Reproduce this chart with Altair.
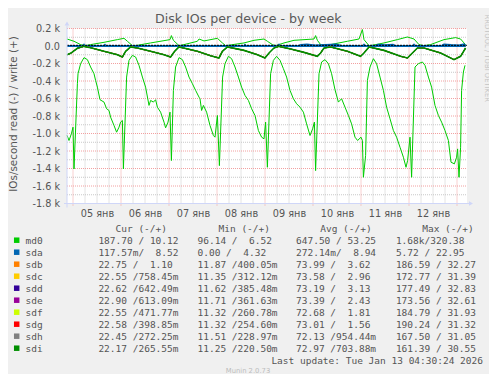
import altair as alt
import pandas as pd

# ---------------- data (hours from 05 Jan 00:00, IO/s) ----------------
BASE = pd.Timestamp("2026-01-05 00:00:00")

devices = ["md0", "sda", "sdb", "sdc", "sdd", "sde", "sdf", "sdg", "sdh", "sdi"]
colors = ["#00CC00", "#0066B3", "#FF8000", "#FFCC00", "#330099",
          "#990099", "#CCFF00", "#FF0000", "#808080", "#008F00"]

md0_read = [
    (-3, 1020), (-2.0, 1080), (-0.8, 1003), (0.0, 928), (0.5, 1405), (2.2, 431), (2.5, 317),
    (3.8, 202), (5.5, 133), (7.2, 156), (8.8, 240), (10.5, 317), (11.3, 393), (12.2, 470),
    (13.5, 614), (15.5, 641), (16.8, 717), (18.0, 737), (18.8, 813), (20.5, 908), (21.8, 985),
    (23.0, 928), (23.8, 870), (24.7, 851), (25.2, 1405), (26.8, 355), (28.0, 164), (29.7, 107),
    (31.3, 126), (33.0, 221), (34.7, 355), (36.3, 470), (38.0, 679), (38.8, 622), (40.2, 641),
    (41.3, 614), (42.2, 699), (43.8, 756), (45.5, 870), (46.3, 935), (47.5, 870), (48.5, 756),
    (49.2, 1309), (50.2, 507), (51.3, 240), (53.0, 133), (54.7, 156), (56.3, 240), (58.0, 355),
    (59.7, 431), (61.3, 507), (63.0, 584), (63.5, 603), (64.3, 737), (65.2, 679), (66.8, 756),
    (68.5, 908), (70.2, 1023), (71.0, 1042), (72.2, 794), (73.2, 1367), (74.8, 355), (76.0, 202),
    (77.7, 118), (79.3, 145), (81.0, 240), (82.7, 355), (84.3, 470), (86.0, 565), (87.7, 622),
    (89.3, 717), (91.0, 794), (92.7, 966), (94.3, 1042), (95.5, 1061), (96.3, 870), (97.2, 1386),
    (98.8, 317), (100.2, 164), (101.8, 118), (103.5, 164), (105.2, 259), (106.8, 355),
    (108.5, 507), (110.2, 603), (111.8, 660), (113.5, 699), (115.2, 756), (116.8, 890),
    (118.5, 1023), (119.8, 947), (120.7, 870), (121.3, 1424), (123.0, 317), (124.3, 183),
    (126.0, 156), (127.7, 202), (129.3, 317), (131.0, 500), (132.7, 641), (134.3, 603),
    (136.0, 699), (137.7, 794), (139.3, 890), (141.0, 1042), (142.3, 1080), (144.0, 1042),
    (144.7, 1080), (145.2, 1500), (146.3, 1252), (147.2, 393), (148.5, 240), (150.2, 145),
    (151.8, 202), (153.5, 355), (155.2, 507), (156.8, 699), (158.5, 832), (160.2, 966),
    (161.8, 1042), (163.5, 1157), (165.2, 1271), (166.5, 1386), (167.3, 1309), (168.5, 1042),
    (169.3, 1500), (171.0, 240), (172.7, 202), (174.7, 183), (176.0, 221), (177.7, 355),
    (179.3, 470), (181.0, 679), (182.7, 794), (184.3, 870), (186.0, 966), (187.7, 1080),
    (189.0, 1328), (190.7, 1347), (191.8, 1271), (192.3, 1176), (193.0, 1500), (193.8, 1157),
    (194.3, 507), (195.2, 297), (196.0, 221),
]

md0_write = [
    (-3, 80), (0.5, 54), (3.8, 16), (5.8, 4), (8.8, 16), (15.5, 42), (22.2, 73), (25.5, 88),
    (27.2, 54), (29.7, 4), (32.2, 8), (38.8, 35), (45.5, 61), (48.5, 73), (49.2, 119), (50.2, 65),
    (53.0, 4), (55.5, 16), (62.2, 54), (63.0, 80), (65.5, 58), (72.2, 88), (74.7, 35), (76.3, 4),
    (78.8, 12), (85.5, 35), (90.5, 65), (95.5, 80), (97.2, 54), (99.7, 16), (101.3, 4),
    (105.5, 35), (110.5, 65), (120.5, 80), (121.3, 119), (122.2, 65), (123.8, 16), (125.5, 4),
    (128.8, 16), (137.2, 54), (143.0, 80), (144.7, 188), (145.5, 73), (148.0, 4), (150.5, 12),
    (155.5, 35), (162.2, 73), (167.2, 103), (170.5, 80), (173.0, 16), (175.5, 4), (178.8, 16),
    (185.5, 73), (191.3, 96), (193.8, 80), (195.5, 35), (196.3, 16),
]

sda_read = [(-3, 0.3), (100, 0.2), (196.3, 0.1)]
sda_write = [
    (-3, 4), (5, 4), (5.5, 18), (6, 4), (15.5, 4), (16, 16), (16.5, 4), (85.5, 4), (86, 16),
    (86.5, 4), (102.5, 4), (103, 18), (103.5, 4), (113, 6), (114, 14), (117, 20), (121, 10),
    (126, 14), (131.5, 20), (134, 6), (145, 4), (145.5, 18), (146, 4), (151.5, 6), (152.5, 16),
    (156, 12), (160, 16), (161, 4), (170, 4), (170.5, 18), (171, 4), (184.5, 6), (185.5, 20),
    (189, 14), (193, 10), (195.5, 22), (196.3, 8),
]

# sdb..sdi draw practically on top of each other
sd_read = [
    (-3, 100), (-1.2, 84), (2.2, 26), (5.5, 4), (8.8, 19), (15.5, 61), (22.2, 99), (24.7, 126),
    (26.3, 61), (28.8, 11), (32.2, 23), (38.8, 61), (45.5, 99), (48.8, 126), (50.8, 61),
    (53.0, 11), (62.2, 61), (68.8, 111), (73.0, 137), (74.7, 61), (77.2, 11), (85.5, 50),
    (92.2, 99), (96.0, 137), (98.0, 80), (100.5, 23), (103.0, 4), (108.8, 34), (115.5, 73),
    (122.2, 118), (123.8, 80), (125.5, 23), (128.8, 11), (137.2, 61), (143.8, 118), (145.5, 80),
    (148.0, 11), (155.5, 50), (163.8, 118), (167.2, 137), (169.7, 80), (172.2, 23), (175.5, 23),
    (183.8, 80), (190.5, 156), (193.8, 118), (196.3, 23),
]
sd_write = [(-3, 2), (24, 3), (48, 2), (72, 3), (96, 2), (120, 3), (144, 2), (168, 3), (196.3, 2)]

# legend table (read / write)
cur_read = [187.70, 0.11757, 22.75, 22.55, 22.62, 22.90, 22.55, 22.58, 22.45, 22.17]
cur_write = [10.12, 8.52, 1.10, 0.75845, 0.64249, 0.61309, 0.47177, 0.39885, 0.27225, 0.26555]
min_read = [96.14, 0.00, 11.87, 11.35, 11.62, 11.71, 11.32, 11.32, 11.51, 11.25]
min_write = [6.52, 4.32, 0.40005, 0.31212, 0.38548, 0.36163, 0.26078, 0.25460, 0.22897, 0.22050]
avg_read = [647.50, 0.27214, 73.99, 73.58, 73.19, 73.39, 72.68, 73.01, 72.13, 72.97]
avg_write = [53.25, 8.94, 3.62, 2.96, 3.13, 2.43, 1.81, 1.56, 0.95444, 0.70388]
max_read = [1680, 5.72, 186.59, 172.77, 177.49, 173.56, 184.79, 190.24, 167.50, 161.39]
max_write = [320.38, 22.95, 32.27, 31.39, 32.83, 32.61, 31.93, 31.32, 31.05, 30.55]

day_labels = list(range(5, 13))
y_ticks = list(range(-1800, 201, 200))

# ---------------- helpers ----------------
NB = "\u00a0"
TXT = "#555555"
MONO = "DejaVu Sans Mono"
SANS = "DejaVu Sans"


def si(v):
    if v >= 1000:
        s = f"{v / 1000:6.2f}k"
    elif 0 < v < 1:
        s = f"{v * 1000:6.2f}m"
    else:
        s = f"{v:6.2f} "
    return s


def cell(r, w):
    return (si(r) + "/" + si(w)).replace(" ", NB)


def to_df(pairs, sign):
    return pd.DataFrame({
        "t": [BASE + pd.Timedelta(hours=h) for h, _ in pairs],
        "v": [sign * v for _, v in pairs],
    })


xs = alt.Scale(domain=[alt.DateTime(year=2026, month=1, date=4, hours=21),
                       alt.DateTime(year=2026, month=1, date=13, hours=5)])
ys = alt.Scale(domain=[-1800, 200], nice=False, zero=False)
one = pd.DataFrame({"a": [0]})


def line(pairs, sign, color, width=1.0):
    return alt.Chart(to_df(pairs, sign)).mark_line(color=color, strokeWidth=width).encode(
        x=alt.X("t:T", scale=xs, axis=None),
        y=alt.Y("v:Q", scale=ys, axis=None),
    )


# ---------------- grid + axes ----------------
minor_h = [h for h in range(6, 197, 6) if h % 24 != 0]
major_h = list(range(0, 193, 24))
vmin = pd.DataFrame({"t": [BASE + pd.Timedelta(hours=h) for h in minor_h]})
vmaj = pd.DataFrame({"t": [BASE + pd.Timedelta(hours=h) for h in major_h]})
hmin = pd.DataFrame({"v": list(range(-1700, 101, 200))})
hmaj = pd.DataFrame({"v": y_ticks})

x_axis = alt.Axis(
    values=[alt.DateTime(year=2026, month=1, date=d, hours=12) for d in day_labels],
    labelExpr="timeFormat(datum.value, '%d') + ' янв'",
    ticks=False, tickSize=0, domain=False, grid=False, title=None, labelAngle=0,
    labelFont=SANS, labelFontSize=9.7, labelColor=TXT, labelPadding=5,
    labelOverlap=False, labelFlush=False,
)
y_axis = alt.Axis(
    values=y_ticks,
    labelExpr="datum.value == 0 ? '0.0" + NB + NB + "' : (datum.value < 0 ? '-' : '') + format(abs(datum.value) / 1000, '.1f') + ' k'",
    ticks=False, tickSize=0, domain=False, grid=False, title=None,
    labelFont=SANS, labelFontSize=9.7, labelColor=TXT, labelPadding=7.5,
    labelOverlap=False, labelFlush=False,
)

GRID = "#C8C8C8"
MGRID = "#F2A0A0"
grid_vmin = alt.Chart(vmin).mark_rule(color=GRID, strokeDash=[1, 1], strokeWidth=1).encode(
    x=alt.X("t:T", scale=xs, axis=x_axis), y=alt.value(0), y2=alt.value(175))
grid_hmin = alt.Chart(hmin).mark_rule(color=GRID, strokeDash=[1, 1], strokeWidth=1).encode(
    y=alt.Y("v:Q", scale=ys, axis=None), x=alt.value(0), x2=alt.value(400))
grid_vmaj = alt.Chart(vmaj).mark_rule(color=MGRID, strokeDash=[1, 1], strokeWidth=1).encode(
    x=alt.X("t:T", scale=xs, axis=None), y=alt.value(0), y2=alt.value(178))
grid_hmaj = alt.Chart(hmaj).mark_rule(color=MGRID, strokeDash=[1, 1], strokeWidth=1).encode(
    y=alt.Y("v:Q", scale=ys, axis=y_axis), x=alt.value(0), x2=alt.value(400))

AX = "#CFD6F8"
axis_left = alt.Chart(one).mark_rule(color=AX, strokeWidth=1).encode(
    x=alt.value(0), y=alt.value(-3), y2=alt.value(179))
axis_bottom = alt.Chart(one).mark_rule(color=AX, strokeWidth=1).encode(
    y=alt.value(175), x=alt.value(-3), x2=alt.value(402))
arrow_up = alt.Chart(one).mark_point(shape="triangle-up", filled=True, size=22, color=AX, opacity=1).encode(
    x=alt.value(0), y=alt.value(-5))
arrow_right = alt.Chart(one).mark_point(shape="triangle-right", filled=True, size=22, color=AX, opacity=1).encode(
    x=alt.value(404), y=alt.value(175))

zero_rule = alt.Chart(pd.DataFrame({"v": [0]})).mark_rule(
    color="#000000", strokeWidth=1, yOffset=-0.7, strokeDash=[2, 1]).encode(
    y=alt.Y("v:Q", scale=ys, axis=None), x=alt.value(0), x2=alt.value(400))

# ---------------- data lines (Munin drawing order) ----------------
lines = [line(md0_read, -1, colors[0]), line(md0_write, 1, colors[0])]
for c in colors[2:]:
    lines.append(line(sd_write, 1, c))
lines += [line(sda_read, -1, colors[1], 2.0), line(sda_write, 1, colors[1], 1.5)]
lines.append(zero_rule)
for c in colors[2:-1]:
    lines.append(line(sd_read, -1, c, 1.0))
lines.append(line(sd_read, -1, colors[-1], 1.6))

# ---------------- texts ----------------
def label(text, x, y, size, color=TXT, font=SANS, align="center", angle=0):
    return alt.Chart(one).mark_text(
        text=text, font=font, fontSize=size, color=color, align=align,
        baseline="alphabetic", angle=angle,
    ).encode(x=alt.value(x), y=alt.value(y))


texts = [
    label("Disk IOs per device - by week", 181.3, -5.5, 12.6, color="#5a5a5a"),
    label("IOs/second read (-) / write (+)", -50.5, 85.5, 10.4, angle=270),
    label("RRDTOOL / TOBI OETIKER", 417.5, 29.8, 6.8, color="#C4C4C4", angle=90),
    label("Last update: Tue Jan 13 04:30:24 2026".replace(" ", NB), 416, 335, 9.5,
          font=MONO, align="right"),
    label("Munin 2.0.73", 181, 344.3, 6.8, color="#BDBDBD"),
]
for name, hx in zip(["Cur (-/+)", "Min (-/+)", "Avg (-/+)", "Max (-/+)"],
                    [48.5, 151.5, 253.2, 355.2]):
    texts.append(label(name.replace(" ", NB), hx, 203, 9.5, font=MONO, align="left"))

legend_df = pd.DataFrame({
    "name": devices,
    "color": colors,
    "idx": list(range(len(devices))),
    "cur": [cell(r, w) for r, w in zip(cur_read, cur_write)],
    "mn": [cell(r, w) for r, w in zip(min_read, min_write)],
    "avg": [cell(r, w) for r, w in zip(avg_read, avg_write)],
    "mx": [cell(r, w) for r, w in zip(max_read, max_write)],
})
leg = alt.Chart(legend_df).transform_calculate(
    py="215 + datum.idx * 12", sy="211.7 + datum.idx * 12")

legend_layers = [
    leg.mark_square(size=30, opacity=1).encode(
        x=alt.value(-50.3), y=alt.Y("sy:Q", scale=None, axis=None),
        color=alt.Color("color:N", scale=None, legend=None)),
    leg.mark_text(align="left", baseline="alphabetic", font=MONO, fontSize=9.5, color=TXT).encode(
        x=alt.value(-41.5), y=alt.Y("py:Q", scale=None, axis=None), text="name:N"),
]
for field, cx in zip(["cur", "mn", "avg", "mx"], [31.4, 130.5, 229.0, 328.9]):
    legend_layers.append(
        leg.mark_text(align="left", baseline="alphabetic", font=MONO, fontSize=9.5, color=TXT).encode(
            x=alt.value(cx), y=alt.Y("py:Q", scale=None, axis=None), text=f"{field}:N"))

chart = alt.layer(
    grid_hmin, grid_vmin, grid_hmaj, grid_vmaj,
    *lines,
    axis_left, axis_bottom, arrow_up, arrow_right,
    *texts, *legend_layers,
).resolve_scale(
    x="independent", y="independent", color="independent"
).properties(
    width=400, height=175,
    autosize=alt.AutoSizeParams(type="none"),
    padding={"left": 59, "top": 20.5, "right": 22, "bottom": 170.5},
    background="#F0F0F0",
).configure_view(fill="#FFFFFF", stroke=None)

chart.save("out.html", embed_options={"renderer": "svg", "actions": False})
